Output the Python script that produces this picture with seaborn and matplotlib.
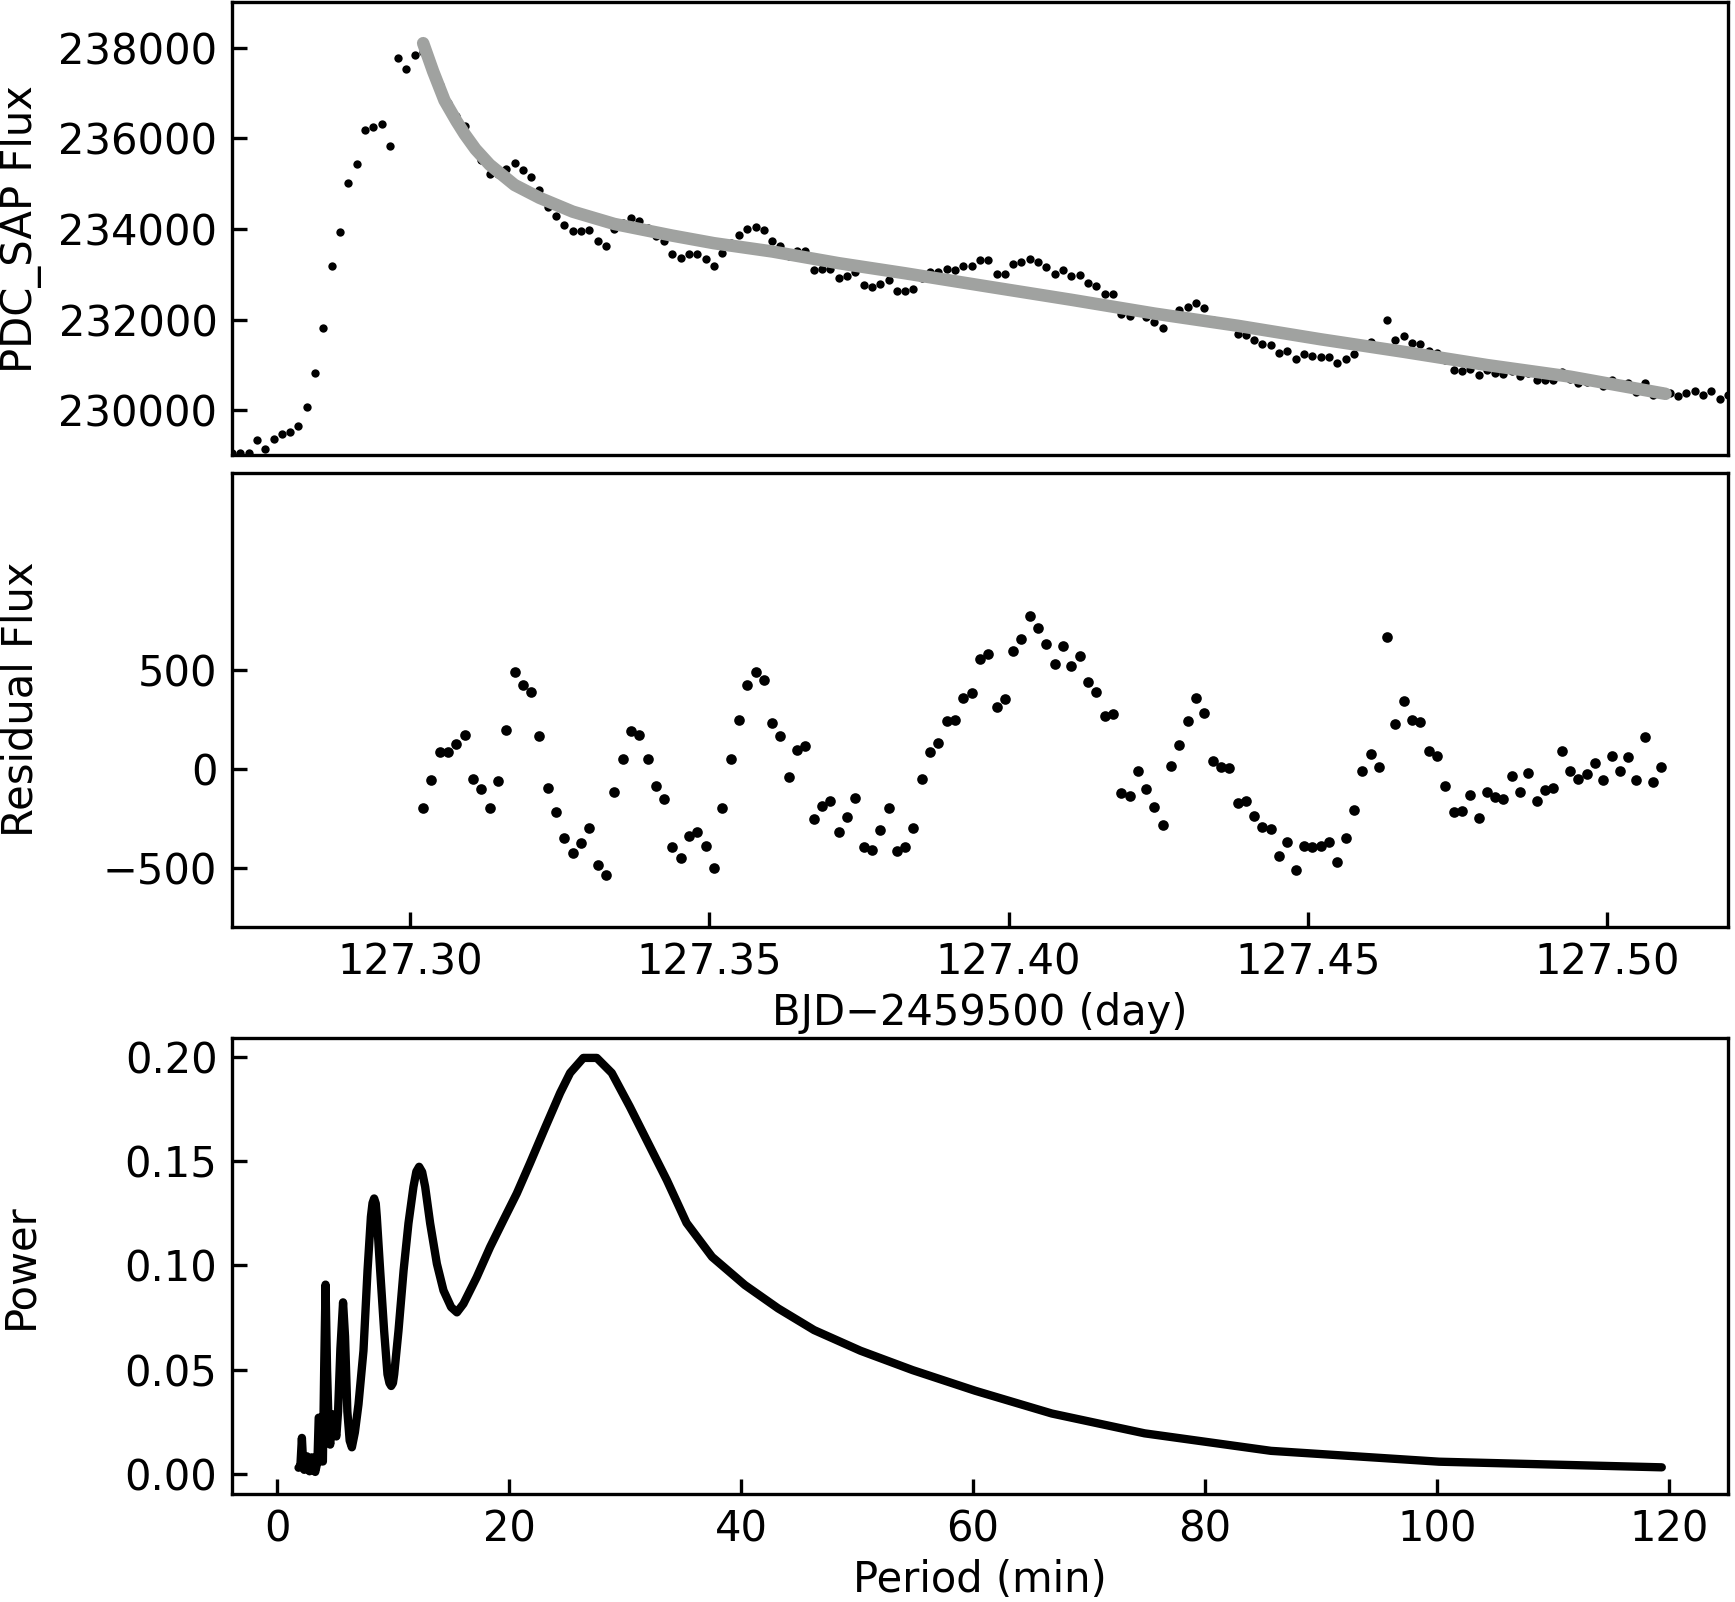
import numpy as np
import matplotlib
matplotlib.use("Agg")
import matplotlib.pyplot as plt
import seaborn as sns

# light curve, 2-min cadence, time in BJD-2459500
t_start = 127.27022
cadence = 2.0 / 1440.0

flux = [229044, 229049, 229057, 229352, 229145, 229360, 229469, 229507, 229653, 230072,
        230822, 231814, 233176, 233932, 235007, 235426, 236182, 236242, 236323, 235823,
        237771, 237528, 237830, 237900, 237525, 237184, 236784, 236500, 236264, 235783,
        235514, 235220, 235206, 235315, 235463, 235293, 235146, 234852, 234484, 234285,
        234080, 233954, 233954, 233969, 233734, 233624, 233992, 234121, 234250, 234185,
        234012, 233837, 233734, 233455, 233367, 233455, 233455, 233345, 233182, 233469,
        233679, 233859, 234006, 234042, 233970, 233734, 233624, 233400, 233513, 233513,
        233087, 233125, 233125, 232926, 232970, 233050, 232757, 232719, 232794, 232867,
        232624, 232624, 232683, 232916, 233050, 233050, 233116, 233103, 233176, 233176,
        233308, 233308, 233014, 233014, 233235, 233271, 233345, 233264, 233153, 233014,
        233087, 232955, 232977, 232807, 232741, 232573, 232573, 232132, 232079, 232182,
        232057, 231940, 231814, 232112, 232205, 232278, 232366, 232249, 231980, 231925,
        231892, 231691, 231669, 231559, 231470, 231433, 231272, 231308, 231139, 231234,
        231197, 231175, 231175, 231042, 231130, 231249, 231430, 231506, 231385, 232000,
        231543, 231631, 231492, 231470, 231300, 231260, 231100, 230897, 230866, 230919,
        230771, 230880, 230822, 230793, 230875, 230756, 230827, 230660, 230675, 230660,
        230845, 230697, 230610, 230627, 230654, 230525, 230660, 230557, 230597, 230410,
        230610, 230330, 230420, 230389, 230308, 230381, 230425, 230330, 230418, 230241,
        230330]

# residuals start at the 24th cadence (after the flare peak)
resid_start = 23
resid = [-200, -55, 84, 84, 123, 172, -54, -101, -199, -64,
         197, 492, 426, 391, 165, -96, -220, -353, -427, -377,
         -299, -486, -540, -118, 51, 190, 170, 52, -87, -151,
         -397, -452, -340, -318, -389, -503, -199, 49, 249, 426,
         490, 451, 232, 167, -40, 96, 115, -252, -187, -162,
         -318, -246, -150, -397, -409, -308, -199, -414, -397, -299,
         -54, 84, 131, 242, 249, 360, 384, 554, 581, 313,
         354, 595, 657, 773, 712, 633, 530, 620, 519, 569,
         441, 391, 266, 278, -121, -139, -10, -103, -192, -287,
         12, 120, 242, 360, 281, 40, 10, 2, -172, -165,
         -237, -293, -306, -443, -369, -512, -389, -397, -389, -369,
         -473, -352, -211, -10, 76, 9, 667, 227, 344, 246,
         239, 88, 66, -86, -217, -214, -133, -249, -116, -141,
         -151, -35, -116, -23, -162, -108, -99, 88, -13, -54,
         -28, 29, -59, 64, -13, 59, -57, 159, -68, 10]

# decay model drawn in grey
fit_time = [127.30217, 127.30383, 127.30574, 127.30772, 127.30911, 127.31092, 127.31328,
            127.31744, 127.32161, 127.32717, 127.33411, 127.34383, 127.35078, 127.36050,
            127.37161, 127.38272, 127.39661, 127.41050, 127.42439, 127.43828, 127.45217,
            127.46605, 127.47994, 127.49383, 127.50980]
fit_flux = [238100, 237480, 236837, 236384, 236092, 235760, 235419,
            234971, 234687, 234381, 234110, 233852, 233685, 233502,
            233244, 233021, 232727, 232436, 232132, 231863, 231564,
            231287, 230996, 230740, 230360]

# periodogram of the residuals
period = [1.84, 2.0, 2.13, 2.25, 2.33, 2.45, 2.56, 2.68, 2.79, 2.9,
          2.99, 3.12, 3.28, 3.47, 3.58, 3.75, 3.85, 3.94, 4.05, 4.17,
          4.3, 4.45, 4.57, 4.7, 4.8, 4.95, 5.1, 5.25, 5.45, 5.68,
          5.85, 6.05, 6.25, 6.44, 6.7, 7.01, 7.44, 7.79, 8.08, 8.22,
          8.36, 8.5, 8.59, 8.88, 9.22, 9.51, 9.68, 9.83, 9.98, 10.09,
          10.46, 10.9, 11.32, 11.75, 12.0, 12.24, 12.5, 12.76, 13.19, 13.77,
          14.34, 15.0, 15.5, 16.06, 17.2, 18.36, 19.5, 20.66, 21.8, 23.1,
          24.4, 25.26, 26.4, 27.56, 28.85, 30.4, 31.85, 33.6, 35.3, 37.5,
          40.33, 43.2, 46.3, 50.3, 54.8, 60.2, 66.8, 74.8, 85.7, 100.2,
          119.4]
power = [0.003, 0.004, 0.0173, 0.004, 0.002, 0.005, 0.0085, 0.004, 0.0013, 0.005,
         0.008, 0.004, 0.001, 0.0058, 0.027, 0.027, 0.006, 0.006, 0.05, 0.0908,
         0.05, 0.02, 0.0141, 0.024, 0.0286, 0.021, 0.018, 0.03, 0.06, 0.0823,
         0.066, 0.03, 0.016, 0.0128, 0.02, 0.0334, 0.0591, 0.0976, 0.1233, 0.1299,
         0.1321, 0.1297, 0.1233, 0.0976, 0.0687, 0.0478, 0.0436, 0.0422, 0.0436, 0.0478,
         0.0687, 0.0976, 0.1202, 0.1377, 0.1450, 0.1473, 0.1448, 0.1377, 0.1202, 0.1008,
         0.088, 0.080, 0.0775, 0.0816, 0.0943, 0.1088, 0.1216, 0.1345, 0.149, 0.166,
         0.1827, 0.1923, 0.1995, 0.1995, 0.1923, 0.1762, 0.1602, 0.1409, 0.1204, 0.1041,
         0.0906, 0.0794, 0.069, 0.0591, 0.0498, 0.0399, 0.029, 0.0195, 0.0111, 0.0059,
         0.0032]

time = t_start + cadence * np.arange(len(flux))
resid_time = time[resid_start:resid_start + len(resid)]

sns.set_style("ticks", {"axes.edgecolor": "black", "text.color": "black",
                        "axes.labelcolor": "black", "xtick.color": "black",
                        "ytick.color": "black", "xtick.direction": "in",
                        "ytick.direction": "in"})
plt.rcParams['font.family'] = ['DejaVu Sans']
plt.rcParams['font.size'] = 10

fig = plt.figure(figsize=(1735 / 300, 1602 / 300), dpi=300)
ax1 = fig.add_axes([0.1337, 0.7157, 0.8622, 0.2828])
ax2 = fig.add_axes([0.1337, 0.4215, 0.8622, 0.2835])
ax3 = fig.add_axes([0.1337, 0.0674, 0.8622, 0.2846])

# top: light curve + model
sns.scatterplot(x=time, y=flux, ax=ax1, s=4.0, color="black", linewidth=0, zorder=2)
sns.lineplot(x=fit_time, y=fit_flux, ax=ax1, color="#a0a2a0", linewidth=3.0, zorder=3)
ax1.set_xlim(time[0], time[-1])
ax1.set_ylim(229000, 239000)
ax1.set_yticks([230000, 232000, 234000, 236000, 238000])
ax1.ticklabel_format(axis="y", useOffset=False, style="plain")
ax1.tick_params(axis="x", bottom=False, labelbottom=False)
ax1.set_ylabel("PDC_SAP Flux")

# middle: residuals
sns.scatterplot(x=resid_time, y=resid, ax=ax2, s=6.5, color="black", linewidth=0)
ax2.set_xlim(time[0], time[-1])
ax2.set_ylim(-800, 1500)
ax2.set_yticks([-500, 0, 500])
ax2.set_xticks([127.30, 127.35, 127.40, 127.45, 127.50])
ax2.set_xticklabels(["127.30", "127.35", "127.40", "127.45", "127.50"])
ax2.set_xlabel("BJD\u22122459500 (day)", labelpad=2)
ax2.set_ylabel("Residual Flux")

# bottom: periodogram
sns.lineplot(x=period, y=power, ax=ax3, color="black", linewidth=2.0, sort=False, estimator=None)
ax3.set_xlim(-3.9, 125.1)
ax3.set_ylim(-0.0096, 0.209)
ax3.set_xticks([0, 20, 40, 60, 80, 100, 120])
ax3.set_yticks([0.0, 0.05, 0.10, 0.15, 0.20])
ax3.set_yticklabels(["0.00", "0.05", "0.10", "0.15", "0.20"])
ax3.set_xlabel("Period (min)", labelpad=2)
ax3.set_ylabel("Power")

# line the y labels up with the top panel's
fig.canvas.draw()
x_disp = ax1.yaxis.label.get_position()[0]
bb = ax1.get_window_extent()
x_ax = (x_disp - bb.x0) / bb.width
for ax in (ax1, ax2, ax3):
    ax.yaxis.set_label_coords(x_ax, 0.5)

fig.savefig("out.png", dpi=300)
